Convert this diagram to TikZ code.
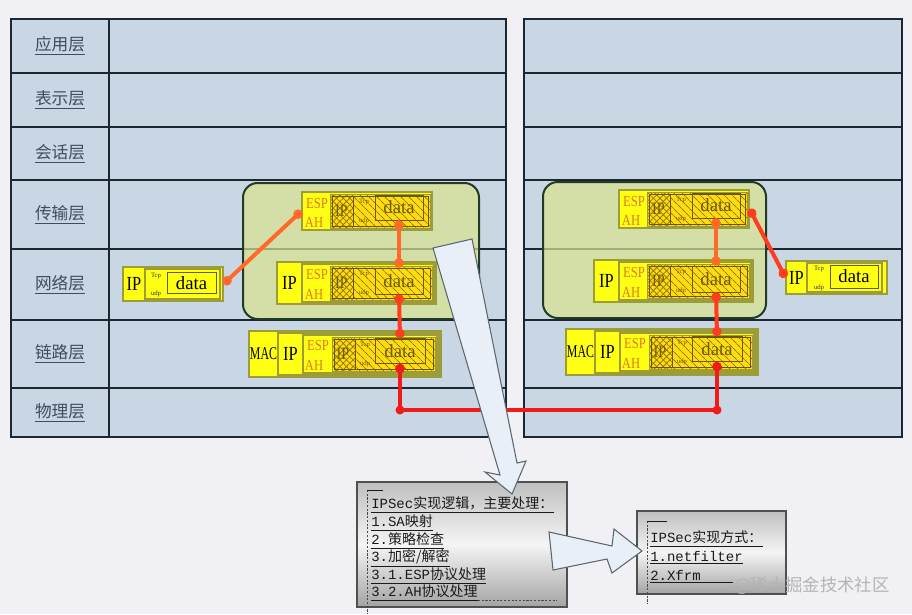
\documentclass[tikz,border=0pt]{standalone}
\usepackage{fontspec}
\usepackage{graphicx}
\setmainfont{Liberation Serif}
\newfontfamily\cjk{Noto Sans CJK SC}
\newfontfamily\lmono{Liberation Mono}
\newfontfamily\nserif[FakeStretch=0.82]{Liberation Serif}
\newfontfamily\nnarrow[FakeStretch=0.66]{Liberation Serif}
\usetikzlibrary{arrows.meta,patterns.meta}

\definecolor{pagebg}{HTML}{F1F0F5}
\definecolor{cellbg}{HTML}{C9D6E3}
\definecolor{gridline}{HTML}{1C2733}
\definecolor{lbl}{HTML}{3C4E5E}
\definecolor{grnfill}{HTML}{DAE48F}
\definecolor{grnline}{HTML}{223B24}
\definecolor{pkty}{HTML}{FFFF14}
\definecolor{pktb}{HTML}{9C9C38}
\definecolor{encf}{HTML}{FFDC10}
\definecolor{hatchc}{HTML}{967A00}
\definecolor{enctext}{HTML}{6A5A08}
\definecolor{esptxt}{HTML}{E07A1E}
\definecolor{redA}{HTML}{FF6A2A}
\definecolor{redB}{HTML}{FF3C1E}
\definecolor{redC}{HTML}{F01A1A}
\definecolor{arrowf}{HTML}{E9EFF7}
\definecolor{arrowd}{HTML}{5C6670}
\definecolor{boxline}{HTML}{505050}
\definecolor{ctext}{HTML}{1A1A1A}
\definecolor{wmc}{HTML}{B4B4B4}

\newcommand{\encpart}[4]{%
  \fill[encf] (#1,#2) rectangle (#3,#4);
  \fill[pattern={Hatch[angle=45,distance=3.5pt,line width=0.6pt]},pattern color=hatchc] (#1,#2) rectangle ({#1+23},#4);
  \fill[pattern={Lines[angle=-45,distance=4pt,line width=0.7pt]},pattern color=hatchc] ({#1+23},#2) rectangle (#3,#4);
  \draw[pktb,line width=0.6pt] (#1,#2) rectangle (#3,#4);
  \draw[hatchc!70!black,line width=0.5pt] ({#1+2},{#2+2}) rectangle ({#3-2},{#4-2});
  \draw[hatchc!70!black,line width=0.5pt] ({#1+23},{#2+2}) -- ({#1+23},{#4-2});
}

\begin{document}
\begin{tikzpicture}[x=0.75pt,y=-0.75pt,
  tline/.style={draw=gridline,line width=1.1pt},
  lbltxt/.style={inner sep=0,text=lbl,font=\cjk\fontsize{12.5}{12.5}\selectfont},
  grnbox/.style={draw=grnline,fill=grnfill,fill opacity=0.7,line width=1.5pt,rounded corners=11pt,inner sep=0},
  pkt/.style={fill=pkty,draw=pktb,line width=0.8pt,inner sep=0},
  iptxt/.style={inner sep=0,text=black,font=\nserif\fontsize{15}{15}\selectfont},
  mactxt/.style={inner sep=0,text=black,font=\nnarrow\fontsize{13.5}{13.5}\selectfont},
  esp/.style={inner sep=0,text=esptxt,font=\nserif\fontsize{11.5}{11.5}\selectfont},
  encip/.style={inner sep=0,text=enctext,font=\nserif\fontsize{13}{13}\selectfont},
  tcpudp/.style={inner sep=0,text=enctext,font=\fontsize{5}{5}\selectfont},
  encdata/.style={draw=enctext,line width=0.6pt,inner sep=0,text=enctext,font=\fontsize{14}{14}\selectfont},
  plaindata/.style={draw=pktb!60!black,fill=pkty,line width=0.7pt,inner sep=0,text=black,font=\fontsize{14}{14}\selectfont},
  conn/.style={line width=3pt,line cap=round,{Circle[length=7pt,width=7pt]}-{Circle[length=7pt,width=7pt]}},
  bigarrow/.style={draw=arrowd,fill=arrowf,line width=0.8pt,line join=miter},
  callbox/.style={draw=boxline,line width=1pt,inner sep=0,top color=gray!50,bottom color=gray!72,middle color=gray!8},
  ctxt/.style={anchor=west,inner sep=0,text=ctext,font=\fontsize{10.5}{10.5}\selectfont},
  uline/.style={draw=ctext,line width=0.7pt},
  vdash/.style={draw=ctext!80,line width=0.7pt,dash pattern=on 1.6pt off 1.2pt},
  wmark/.style={inner sep=0,text=wmc,font=\cjk\fontsize{13}{13}\selectfont}
]
\useasboundingbox (0,0) rectangle (912,614);
\fill[pagebg] (0,0) rectangle (912,614);

% ---- tables
\fill[cellbg] (11,19) rectangle (506,437);
\fill[cellbg] (524,19) rectangle (902,437);
\foreach \yy in {73,127,180,249,320,388}{
  \draw[tline] (11,\yy) -- (506,\yy);
  \draw[tline] (524,\yy) -- (902,\yy);
}
\draw[tline] (11,19) rectangle (506,437);
\draw[tline] (524,19) rectangle (902,437);
\draw[tline] (109,19) -- (109,437);

\foreach \t/\yy/\nm in {应用层/46/app,表示层/100/pre,会话层/153.5/ses,传输层/214.5/tra,网络层/284.5/net,链路层/354/lnk,物理层/412.5/phl}{
  \node[lbltxt] (\nm) at (60,\yy) {\underline{\t}};
}

% ---- IPSec regions
\node[grnbox,minimum width=177pt,minimum height=102pt] (secL) at (361,251) {};
\node[grnbox,minimum width=167.25pt,minimum height=102pt] (secR) at (654.5,250) {};

% ---- packets (left stack and right stack)
\foreach \n/\sx/\sy in {L/0/0,R/317/-2}{
\begin{scope}[shift={(\sx,\sy)}]
  % transport-layer ESP packet
  \node[pkt,minimum width=97.5pt,minimum height=28.5pt] (T\n) at (367,211) {};
  \node[esp] at (317,203) {ESP};
  \node[esp] at (314,222) {AH};
  \encpart{330}{194}{430}{228}
  \node[encip] at (341.5,211) {IP};
  \node[tcpudp] at (364,202) {Tcp};
  \node[tcpudp] at (364,221) {udp};
  \node[encdata,minimum width=36pt,minimum height=18.75pt] (dT\n) at (399,207.5) {data};
  % network-layer packet
  \node[pkt,minimum width=119.25pt,minimum height=31.5pt] (M\n) at (356.5,283) {};
  \node[iptxt] at (289.5,283) {IP};
  \draw[pkt] (302,264) rectangle (434,302);
  \node[esp] at (317,274) {ESP};
  \node[esp] at (314,294) {AH};
  \encpart{330}{266}{432}{300}
  \node[encip] at (341.5,283) {IP};
  \node[tcpudp] at (364,274) {Tcp};
  \node[tcpudp] at (364,293) {udp};
  \node[encdata,minimum width=36pt,minimum height=19.5pt] (dM\n) at (399,281) {data};
  % link-layer frame
  \node[pkt,minimum width=144pt,minimum height=34.5pt] (B\n) at (345,354) {};
  \node[mactxt] at (263.5,354) {MAC};
  \draw[pkt] (278,333) rectangle (439,375);
  \node[iptxt] at (290.5,354) {IP};
  \draw[pkt] (303,335) rectangle (437,373);
  \node[esp] at (318,345) {ESP};
  \node[esp] at (314,365) {AH};
  \encpart{332}{337}{435}{371}
  \node[encip] at (343,354) {IP};
  \node[tcpudp] at (365,345) {Tcp};
  \node[tcpudp] at (365,364) {udp};
  \node[encdata,minimum width=37.5pt,minimum height=18.75pt] (dB\n) at (400,351) {data};
\end{scope}
}

% plain IP packets
\node[pkt,minimum width=75pt,minimum height=25.5pt] (SL) at (173,284) {};
\node[iptxt] at (134,284) {IP};
\draw[pkt] (145,269) rectangle (220,299);
\node[tcpudp,text=black!80] at (156,276) {Tcp};
\node[tcpudp,text=black!80] at (156,294) {udp};
\node[plaindata,minimum width=36.75pt,minimum height=15.75pt] (dSL) at (191.5,283) {data};

\node[pkt,minimum width=75.75pt,minimum height=24.75pt] (SR) at (836.5,277.5) {};
\node[iptxt] at (796.5,278) {IP};
\draw[pkt] (807,263) rectangle (882,292);
\node[tcpudp,text=black!80] at (819,269.5) {Tcp};
\node[tcpudp,text=black!80] at (819,287.5) {udp};
\node[plaindata,minimum width=36pt,minimum height=17.25pt] (dSR) at (854,276.5) {data};

% ---- red data path
\coordinate (phy) at (0,410);
\coordinate (c1) at (dBL.south |- phy);
\coordinate (c2) at (dBR.south |- phy);
\draw[conn,redA] (SL.east) -- (TL.west);
\draw[conn,redA] (dTL.south) -- (dML.north);
\draw[conn,redB] (dML.south) -- (dBL.north);
\draw[conn,redC] (dBL.south) -- (c1) -- (c2) -- (dBR.south);
\fill[redC] (c1) circle (4.5);
\fill[redC] (c2) circle (4.5);
\draw[conn,redB] (dBR.north) -- (dMR.south);
\draw[conn,redA] (dMR.north) -- (dTR.south);
\draw[conn,redB] (TR.east) -- (SR.west);

% ---- callout boxes
\node[callbox,minimum width=157.5pt,minimum height=93.75pt] (logic) at (462,544.5) {};
\draw[vdash] (367,490) -- (367,614);
\draw[uline] (367,490) -- (383,490);
\node[ctxt] (lg1) at (371,503) {{\lmono IPSec}{\cjk 实现逻辑，主要处理：}};
\node[ctxt] (lg2) at (371,521) {{\lmono 1.SA}{\cjk 映射}};
\node[ctxt] (lg3) at (371,539) {{\lmono 2.}{\cjk 策略检查}};
\node[ctxt] (lg4) at (371,556.5) {{\lmono 3.}{\cjk 加密/解密}};
\node[ctxt] (lg5) at (371,574) {{\lmono 3.1.ESP}{\cjk 协议处理}};
\node[ctxt] (lg6) at (371,591) {{\lmono 3.2.AH}{\cjk 协议处理}};
\foreach \k in {1,...,6}{
  \draw[uline] ([yshift=-1.8pt]lg\k.south west) -- ([yshift=-1.8pt]lg\k.south east);
}
\draw[vdash] ([yshift=-1.8pt]lg6.south east) -- ++(79,0);

\node[callbox,minimum width=111.75pt,minimum height=62.25pt] (impl) at (711.5,552.5) {};
\draw[vdash] (647,521) -- (647,604);
\draw[uline] (647,521) -- (667,521);
\node[ctxt] (lf1) at (650,537) {{\lmono IPSec}{\cjk 实现方式：}};
\node[ctxt] (lf2) at (650,556) {{\lmono 1.netfilter}};
\node[ctxt] (lf3) at (650,575) {{\lmono 2.Xfrm}};
\draw[uline] ([yshift=-1.8pt]lf1.south west) -- ([yshift=-1.8pt]lf1.south east);
\draw[uline] ([yshift=-1.8pt]lf2.south west) -- ([yshift=-1.8pt]lf2.south east);
\draw[uline] ([yshift=-1.8pt]lf3.south west) -- ++(83,0);

% ---- block arrows
\draw[bigarrow] (433,248) -- (472,239) -- (517,463) -- (526,461) -- (512,494) -- (485,472) -- (500,475) -- cycle;
\draw[bigarrow] (549,532) -- (612,546) -- (614,529) -- (642,551) -- (612,573) -- (607,559) -- (553,570) -- cycle;

% ---- watermark
\node[wmark] (wm) at (812,586) {@稀土掘金技术社区};
\end{tikzpicture}
\end{document}
